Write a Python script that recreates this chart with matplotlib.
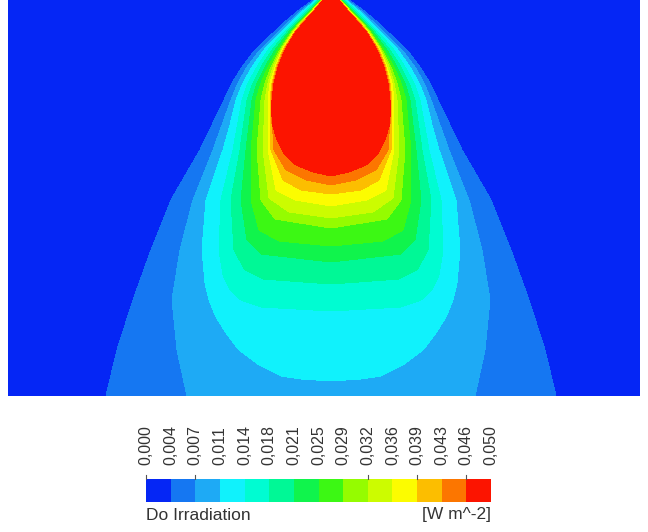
import numpy as np
import matplotlib
matplotlib.use("Agg")
import matplotlib.pyplot as plt

# Contour levels of the colour bar (W m^-2)
levels = np.linspace(0.0, 0.05, 15)
tick_labels = [f"{v:.3f}".replace(".", ",") for v in levels]
marked_ticks = [levels[0], levels[2], levels[9], levels[11], levels[13]]

# band colours, dark blue -> red
band_colors = ['#0526f5', '#1577f2', '#1eaaf5', '#10f2fc', '#00fcd2',
               '#00f896', '#10f44c', '#3cf814', '#95fc00', '#ccfc00',
               '#fcfc00', '#fcbe00', '#fc7600', '#fc1400']

# Outline of each contour line: (depth below source, half width), in px
edge_004 = [(0, 18), (10, 32), (20, 44), (33, 58), (50, 76), (67, 89), (83, 99),
            (100, 107), (125, 119), (150, 131), (200, 160), (250, 180),
            (300, 198), (350, 214), (396, 225)]
edge_007 = [(0, 16), (10, 29), (20, 40), (33, 54), (50, 71), (67, 84), (83, 93),
            (100, 100), (125, 109), (150, 118), (200, 138), (250, 151),
            (300, 159), (350, 154), (396, 144)]
edge_011 = [(0, 15), (10, 27), (20, 38), (33, 51), (50, 67), (67, 79), (83, 88),
            (100, 95), (125, 101), (150, 108), (200, 125), (250, 129),
            (283, 126), (300, 122), (317, 115), (333, 105), (350, 92),
            (365, 72), (376, 50), (379, 30), (381, 0)]
edge_014 = [(0, 13), (10, 25), (20, 35), (33, 48), (50, 63), (67, 74), (83, 83),
            (100, 89), (150, 98), (200, 110), (250, 112), (275, 108),
            (290, 101), (300, 90), (307, 70), (311, 0)]
edge_018 = [(0, 12), (10, 23), (20, 33), (33, 45), (50, 59), (67, 70), (83, 78),
            (100, 84), (150, 91), (200, 100), (250, 97), (270, 86), (279, 68),
            (284, 0)]
edge_021 = [(0, 11), (10, 21), (20, 31), (33, 43), (50, 56), (67, 66), (83, 74),
            (100, 79), (150, 85), (200, 90), (240, 84), (254, 70), (262, 0)]
edge_025 = [(0, 10), (10, 20), (20, 30), (33, 41), (50, 53), (67, 63), (83, 70),
            (100, 75), (150, 80), (200, 80), (230, 72), (241, 52), (246, 0)]
edge_029 = [(0, 10), (10, 19), (20, 29), (33, 40), (50, 51), (67, 60), (83, 66),
            (100, 70), (150, 74), (200, 70), (219, 56), (228, 0)]
edge_032 = [(0, 9), (10, 18), (20, 28), (33, 39), (50, 50), (67, 58), (83, 63),
            (100, 66), (150, 68), (198, 62), (212, 42), (218, 0)]
edge_036 = [(0, 9), (10, 18), (20, 27), (33, 38), (50, 49), (67, 56), (83, 61),
            (100, 63), (150, 63), (190, 55), (200, 36), (206, 0)]
edge_039 = [(0, 9), (10, 17), (20, 27), (33, 37), (50, 48), (67, 55), (83, 59),
            (100, 61), (150, 60), (180, 48), (190, 30), (194, 0)]
edge_043 = [(0, 8), (10, 17), (20, 26), (33, 37), (50, 47), (67, 54), (83, 58),
            (100, 60), (150, 57), (170, 45), (180, 25), (185, 0)]
edge_046 = [(0, 8), (10, 16), (20, 25), (33, 36), (50, 46), (67, 53), (83, 57),
            (100, 59), (120, 60), (140, 54), (155, 46), (165, 35), (172, 18),
            (176, 0)]

edges = [edge_004, edge_007, edge_011, edge_014, edge_018, edge_021,
         edge_025, edge_029, edge_032, edge_036, edge_039, edge_043, edge_046]

# domain (px, source at x = 0, depth 0 at the top)
x_left, x_right, depth_max = -323, 309, 396

xs = np.arange(x_left, x_right + 0.5, 0.5)
ys = np.arange(0, depth_max + 0.5, 0.5)
X, Y = np.meshgrid(xs, ys)

count = np.zeros_like(X)
for edge in edges:
    d, w = zip(*edge)
    hw = np.interp(ys, d, w, right=w[-1])
    count += np.abs(X) < hw[:, None]
step = levels[1] - levels[0]
Z = (count + 0.5) * step

fig = plt.figure(figsize=(6.48, 5.32), dpi=100)
ax = fig.add_axes([8 / 648, 1 - 396 / 532, 632 / 648, 396 / 532])
cs = ax.contourf(X, Y, Z, levels=levels, colors=band_colors, antialiased=False)
ax.set_xlim(x_left, x_right)
ax.set_ylim(depth_max, 0)
ax.axis('off')

# colour bar
cax = fig.add_axes([146 / 648, 1 - 502 / 532, 345 / 648, 23 / 532])
cbar = fig.colorbar(cs, cax=cax, orientation='horizontal', ticks=levels)
cbar.outline.set_visible(False)
cax.xaxis.set_ticks_position('top')
cax.set_xticklabels(tick_labels, rotation=90, fontsize=11.5,
                    family='Liberation Sans', color='#333333')
cax.tick_params(axis='x', which='major', length=0, pad=10)
# the few short tick marks above the bar
for v in marked_ticks:
    cax.plot([v, v], [1.0, 1.18], color='#555555', lw=0.8,
             transform=cax.get_xaxis_transform(), clip_on=False)

fig.text(146 / 648, 1 - 515 / 532, 'Do Irradiation', ha='left', va='center',
         fontsize=12.5, family='Liberation Sans', color='#333333')
fig.text(491 / 648, 1 - 515 / 532, '[W m^-2]', ha='right', va='center',
         fontsize=12.5, family='Liberation Sans', color='#333333')

fig.savefig('out.png', dpi=100)
